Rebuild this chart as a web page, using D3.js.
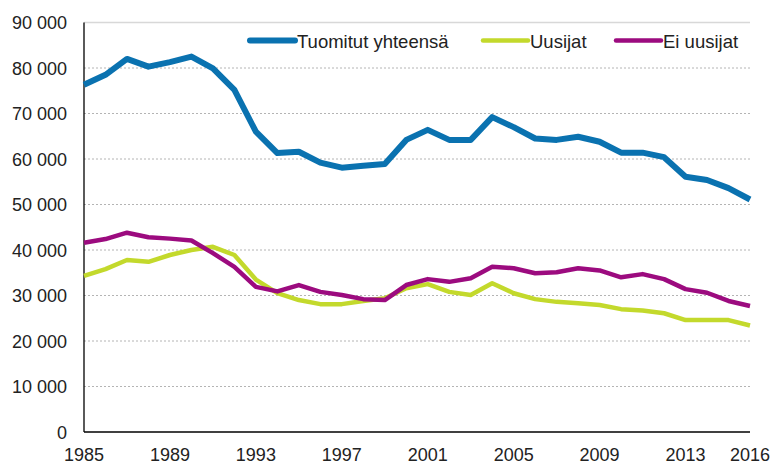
<!doctype html>
<html>
<head>
<meta charset="utf-8">
<script src="https://d3js.org/d3.v7.min.js"></script>
<style>
  body { margin: 0; background: #fff; }
  text { font-family: "Liberation Sans", Arial, sans-serif; fill: #222; }
</style>
</head>
<body>
<svg width="772" height="465"></svg>
<script>
// data
var years = d3.range(1985, 2017);
var tuomitut = [76300, 78500, 82000, 80300, 81300, 82500, 79900, 75200, 66000, 61300,
                61600, 59200, 58100, 58500, 58900, 64200, 66400, 64200, 64200, 69200,
                67000, 64500, 64200, 64900, 63800, 61400, 61400, 60400, 56100, 55400,
                53600, 51100];
var uusijat = [34300, 35800, 37800, 37400, 38900, 40000, 40700, 38900, 33500, 30500,
               29000, 28100, 28100, 28800, 29400, 31600, 32500, 30800, 30100, 32700,
               30500, 29200, 28600, 28300, 27900, 27000, 26700, 26100, 24600, 24600,
               24600, 23400];
var eiUusijat = [41600, 42400, 43800, 42800, 42500, 42100, 39300, 36300, 31900, 30900,
                 32300, 30800, 30100, 29200, 29000, 32300, 33600, 33000, 33800, 36300,
                 36000, 34900, 35100, 36000, 35500, 34000, 34700, 33600, 31400, 30600,
                 28800, 27700];
var yTicks = [0, 10000, 20000, 30000, 40000, 50000, 60000, 70000, 80000, 90000];
var xTicks = [1985, 1989, 1993, 1997, 2001, 2005, 2009, 2013, 2016];
var seriesNames = ["Tuomitut yhteensä", "Uusijat", "Ei uusijat"];
var colors = ["#0a72b0", "#c3d92c", "#9c0b7f"];
var widths = [6, 4.5, 4.5];

var svg = d3.select("svg"),
    plotLeft = 84, plotRight = 750, plotTop = 22.5, plotBottom = 432;

var x = d3.scaleLinear().domain([1985, 2016]).range([plotLeft, plotRight]);
var y = d3.scaleLinear().domain([0, 90000]).range([plotBottom, plotTop]);

var fmt = function(d) { return d3.format(",")(d).replace(/,/g, " "); };

// gridlines
svg.append("g").selectAll("line")
  .data(yTicks.filter(function(d) { return d > 0; }))
  .enter().append("line")
  .attr("x1", plotLeft).attr("x2", plotRight)
  .attr("y1", function(d) { return y(d); })
  .attr("y2", function(d) { return y(d); })
  .attr("stroke", function(d) { return d == 90000 ? "#d8d8d8" : "#b4b4b4"; })
  .attr("stroke-width", function(d) { return d == 90000 ? 1.5 : 1; })
  .attr("stroke-dasharray", function(d) { return d == 90000 ? null : "2,2"; });

// y labels
svg.append("g").selectAll("text")
  .data(yTicks)
  .enter().append("text")
  .attr("x", 67)
  .attr("y", function(d) { return y(d) + 6.5; })
  .attr("text-anchor", "end")
  .style("font-size", "18px")
  .text(fmt);

// x labels
svg.append("g").selectAll("text")
  .data(xTicks)
  .enter().append("text")
  .attr("x", function(d) { return x(d); })
  .attr("y", 461)
  .attr("text-anchor", "middle")
  .style("font-size", "18px")
  .text(function(d) { return d; });

// axes lines
svg.append("line").attr("x1", plotLeft).attr("x2", plotLeft).attr("y1", plotTop).attr("y2", plotBottom)
  .attr("stroke", "#000").attr("stroke-width", 1.3);
svg.append("line").attr("x1", plotLeft).attr("x2", plotRight).attr("y1", plotBottom).attr("y2", plotBottom)
  .attr("stroke", "#000").attr("stroke-width", 1.3);

// lines
var line = d3.line()
  .x(function(d, i) { return x(years[i]); })
  .y(function(d) { return y(d); });

[uusijat, eiUusijat, tuomitut].forEach(function(s) {
  var k = [tuomitut, uusijat, eiUusijat].indexOf(s);
  svg.append("path")
    .datum(s)
    .attr("fill", "none")
    .attr("stroke", colors[k])
    .attr("stroke-width", widths[k])
    .attr("stroke-linejoin", "round")
    .attr("d", line);
});

// legend
var legendX = [250, 483, 616];
seriesNames.forEach(function(name, k) {
  svg.append("line")
    .attr("x1", legendX[k]).attr("x2", legendX[k] + 45)
    .attr("y1", 40.5).attr("y2", 40.5)
    .attr("stroke", colors[k])
    .attr("stroke-width", widths[k])
    .attr("stroke-linecap", "round");
  svg.append("text")
    .attr("x", legendX[k] + 47)
    .attr("y", 47.5)
    .style("font-size", "18.5px")
    .text(name);
});
</script>
</body>
</html>
